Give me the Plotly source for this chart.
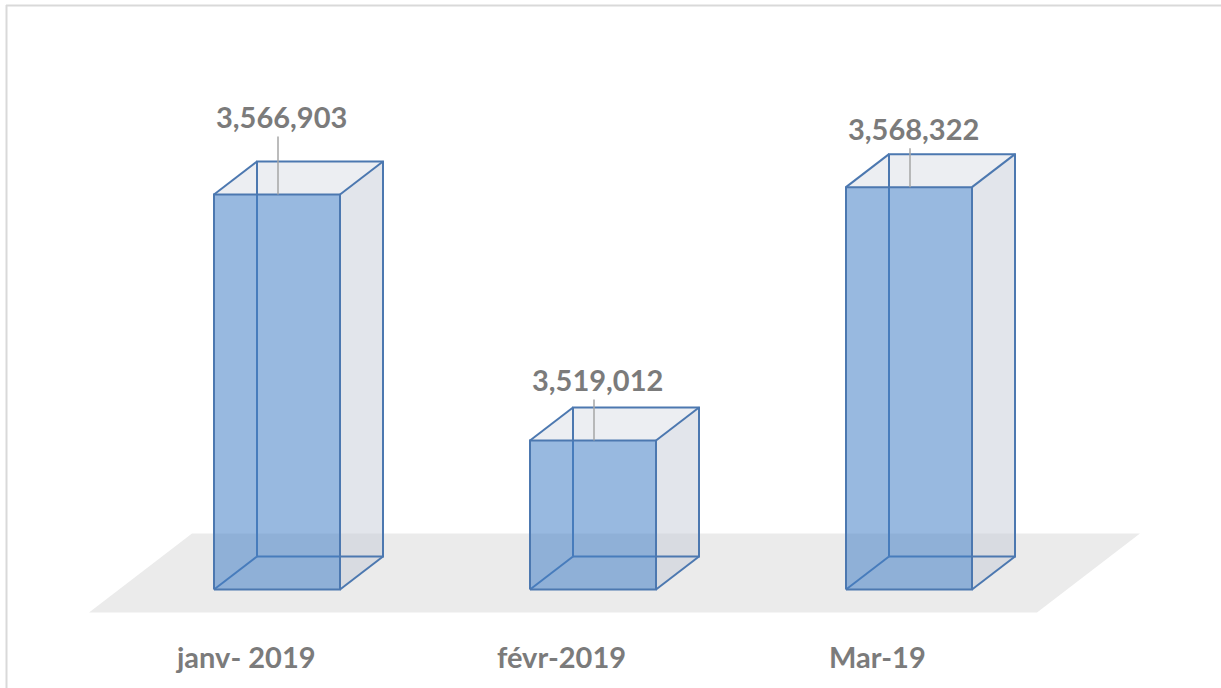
import plotly.graph_objects as go

# ---- data ----
categories = ["janv- 2019", "févr-2019", "Mar-19"]
values = [3566903, 3519012, 3568322]
value_labels = ["3,566,903", "3,519,012", "3,568,322"]
axis_min = 3490000

# ---- layout / style constants (pixels) ----
W, H = 1221, 688
X0_PX, STEP_PX = 277.0, 316.0        # px of first category centre, px per category
BASE_PX, K = 589.5, 0.005137         # px of axis minimum, px per value unit
DX = 43.0 / STEP_PX                  # depth offset (x units)
DY = 33.0 / K                        # depth offset (value units)
HALF = 63.0 / STEP_PX                # half bar width (x units)
FLOOR_T = (-0.697, 1.697)            # floor depth extent
label_dy_px = [78, 61, 59]           # label height above bar top (px)
LABEL_GAP_PX = 20

x_range = [(0 - X0_PX) / STEP_PX, (W - X0_PX) / STEP_PX]
y_range = [axis_min - (H - BASE_PX) / K, axis_min + BASE_PX / K]

EDGE = "#4c78b0"
FRONT = "rgba(68,128,199,0.55)"
SIDE = "rgba(197,203,215,0.5)"
TOP = "rgba(200,206,218,0.35)"
FLOOR = "#ebebeb"
TEXT = "#7b7b7b"
FONT = dict(family="Lato", size=29, color=TEXT, weight="bold")


def P(x, v, t):
    return x + t * DX, v + t * DY


def poly(points, fill):
    xs, ys = zip(*points)
    return go.Scatter(x=list(xs) + [xs[0]], y=list(ys) + [ys[0]], mode="lines",
                      fill="toself", fillcolor=fill, line=dict(width=0),
                      hoverinfo="skip", showlegend=False)


fig = go.Figure()

# floor
n = len(categories)
fl, fr = -0.5, n - 0.5
fig.add_trace(poly([P(fl, axis_min, FLOOR_T[0]), P(fr, axis_min, FLOOR_T[0]),
                    P(fr, axis_min, FLOOR_T[1]), P(fl, axis_min, FLOOR_T[1])], FLOOR))

for i, v1 in enumerate(values):
    xl, xr, v0 = i - HALF, i + HALF, axis_min
    # side and top faces
    fig.add_trace(poly([P(xr, v0, 0), P(xr, v0, 1), P(xr, v1, 1), P(xr, v1, 0)], SIDE))
    fig.add_trace(poly([P(xl, v1, 0), P(xr, v1, 0), P(xr, v1, 1), P(xl, v1, 1)], TOP))
    # back / depth edges
    segs = [
        [(xl, v0, 1), (xr, v0, 1), (xr, v1, 1), (xl, v1, 1), (xl, v0, 1)],
        [(xl, v0, 0), (xl, v0, 1)], [(xr, v0, 0), (xr, v0, 1)],
        [(xr, v1, 0), (xr, v1, 1)], [(xl, v1, 0), (xl, v1, 1)],
    ]
    ex, ey = [], []
    for s in segs:
        for p in s:
            a, b = P(*p)
            ex.append(a); ey.append(b)
        ex.append(None); ey.append(None)
    fig.add_trace(go.Scatter(x=ex, y=ey, mode="lines", line=dict(color=EDGE, width=2),
                             hoverinfo="skip", showlegend=False))
    # front face
    front = [P(xl, v0, 0), P(xr, v0, 0), P(xr, v1, 0), P(xl, v1, 0)]
    fxs, fys = zip(*front)
    fig.add_trace(go.Scatter(x=list(fxs) + [fxs[0]], y=list(fys) + [fys[0]], mode="lines",
                             fill="toself", fillcolor=FRONT, line=dict(color=EDGE, width=2),
                             hoverinfo="skip", showlegend=False))
    # leader line
    top_label = v1 + label_dy_px[i] / K
    fig.add_trace(go.Scatter(x=[i + 1 / STEP_PX, i + 1 / STEP_PX],
                             y=[v1, top_label - LABEL_GAP_PX / K], mode="lines",
                             line=dict(color="#a6a6a6", width=1.5),
                             hoverinfo="skip", showlegend=False))
    fig.add_annotation(x=i + 4 / STEP_PX, y=top_label, text=value_labels[i], showarrow=False,
                       xanchor="center", yanchor="middle", font=FONT)
    fig.add_annotation(x=i - 32 / STEP_PX, y=axis_min - (656 - BASE_PX) / K, text=categories[i],
                       showarrow=False, xanchor="center", yanchor="middle", font=FONT)

# chart border (top and left visible)
fig.add_shape(type="line", xref="paper", yref="paper", x0=6 / W, x1=1, y0=1 - 5.5 / H, y1=1 - 5.5 / H,
              line=dict(color="#d9d9d9", width=2))
fig.add_shape(type="line", xref="paper", yref="paper", x0=6.5 / W, x1=6.5 / W, y0=0, y1=1 - 5 / H,
              line=dict(color="#d9d9d9", width=2))

fig.update_layout(
    width=W, height=H, margin=dict(l=0, r=0, t=0, b=0),
    paper_bgcolor="white", plot_bgcolor="white", showlegend=False,
    xaxis=dict(range=x_range, visible=False, fixedrange=True),
    yaxis=dict(range=y_range, visible=False, fixedrange=True),
)

fig.write_html("out.html", config={"displayModeBar": False},
               post_script="document.body.style.margin='0';document.body.style.overflow='hidden';")
